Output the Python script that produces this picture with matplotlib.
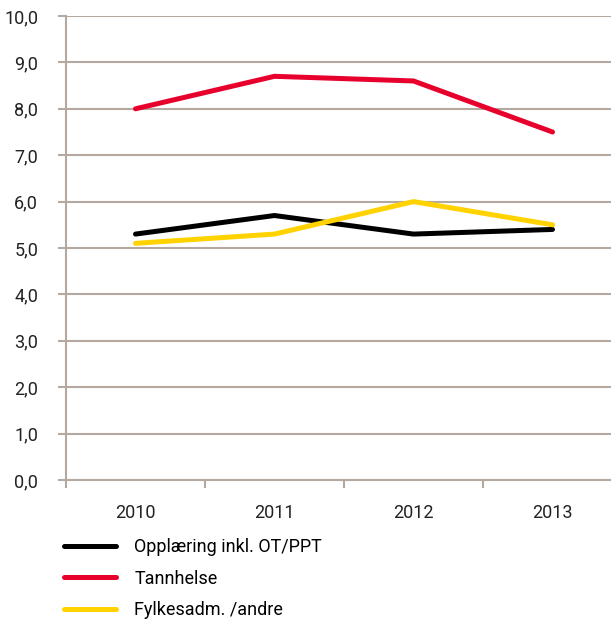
import matplotlib
matplotlib.use("Agg")
import matplotlib.pyplot as plt
from matplotlib.ticker import FixedLocator

years = ["2010", "2011", "2012", "2013"]
opplaering = [5.3, 5.7, 5.3, 5.4]
tannhelse = [8.0, 8.7, 8.6, 7.5]
fylkesadm = [5.1, 5.3, 6.0, 5.5]
series_names = ["Opplæring inkl. OT/PPT", "Tannhelse", "Fylkesadm. /andre"]
y_ticks = [0, 1, 2, 3, 4, 5, 6, 7, 8, 9, 10]
y_tick_labels = ["0,0", "1,0", "2,0", "3,0", "4,0", "5,0", "6,0", "7,0", "8,0", "9,0", "10,0"]

plt.rcParams['font.family'] = ['Roboto', 'DejaVu Sans']
W, H = 611, 619
fig = plt.figure(figsize=(W / 100, H / 100), dpi=100)
ax = fig.add_axes([66 / W, (H - 480) / H, (622 - 66) / W, (480 - 16) / H])

grid_c = "#b5a8a0"
x = list(range(len(years)))
colors = ["#000000", "#e8002d", "#ffd200"]
for vals, name, c in zip([opplaering, tannhelse, fylkesadm], series_names, colors):
    ax.plot(x, vals, color=c, lw=3.6, solid_capstyle="round", label=name, zorder=3)

ax.set_xlim(-0.5, len(years) - 0.5)
ax.set_ylim(0, 10)
ax.set_yticks(y_ticks)
ax.set_yticklabels(y_tick_labels, fontsize=13, color="#222222")
ax.set_xticks(x)
ax.set_xticklabels(years, fontsize=13, color="#222222")
ax.tick_params(axis="x", which="major", length=0, pad=17)
ax.xaxis.set_minor_locator(FixedLocator([-0.5 + i for i in range(len(years))]))
ax.tick_params(axis="x", which="minor", length=6, width=1.5, color=grid_c)
ax.tick_params(axis="y", length=6, width=1.5, color=grid_c, pad=14)
ax.grid(axis="y", color=grid_c, lw=1.5, zorder=1)
for s in ["top", "right"]:
    ax.spines[s].set_visible(False)
for s in ["left", "bottom"]:
    ax.spines[s].set_color(grid_c)
    ax.spines[s].set_linewidth(1.5)

fig.legend(loc="upper left", bbox_to_anchor=(64 / W, 1 - 538 / H), frameon=False,
           fontsize=13, handlelength=2.9, handletextpad=1.0, labelspacing=0.76,
           borderaxespad=0, borderpad=0)

fig.savefig("out.png", dpi=100)
